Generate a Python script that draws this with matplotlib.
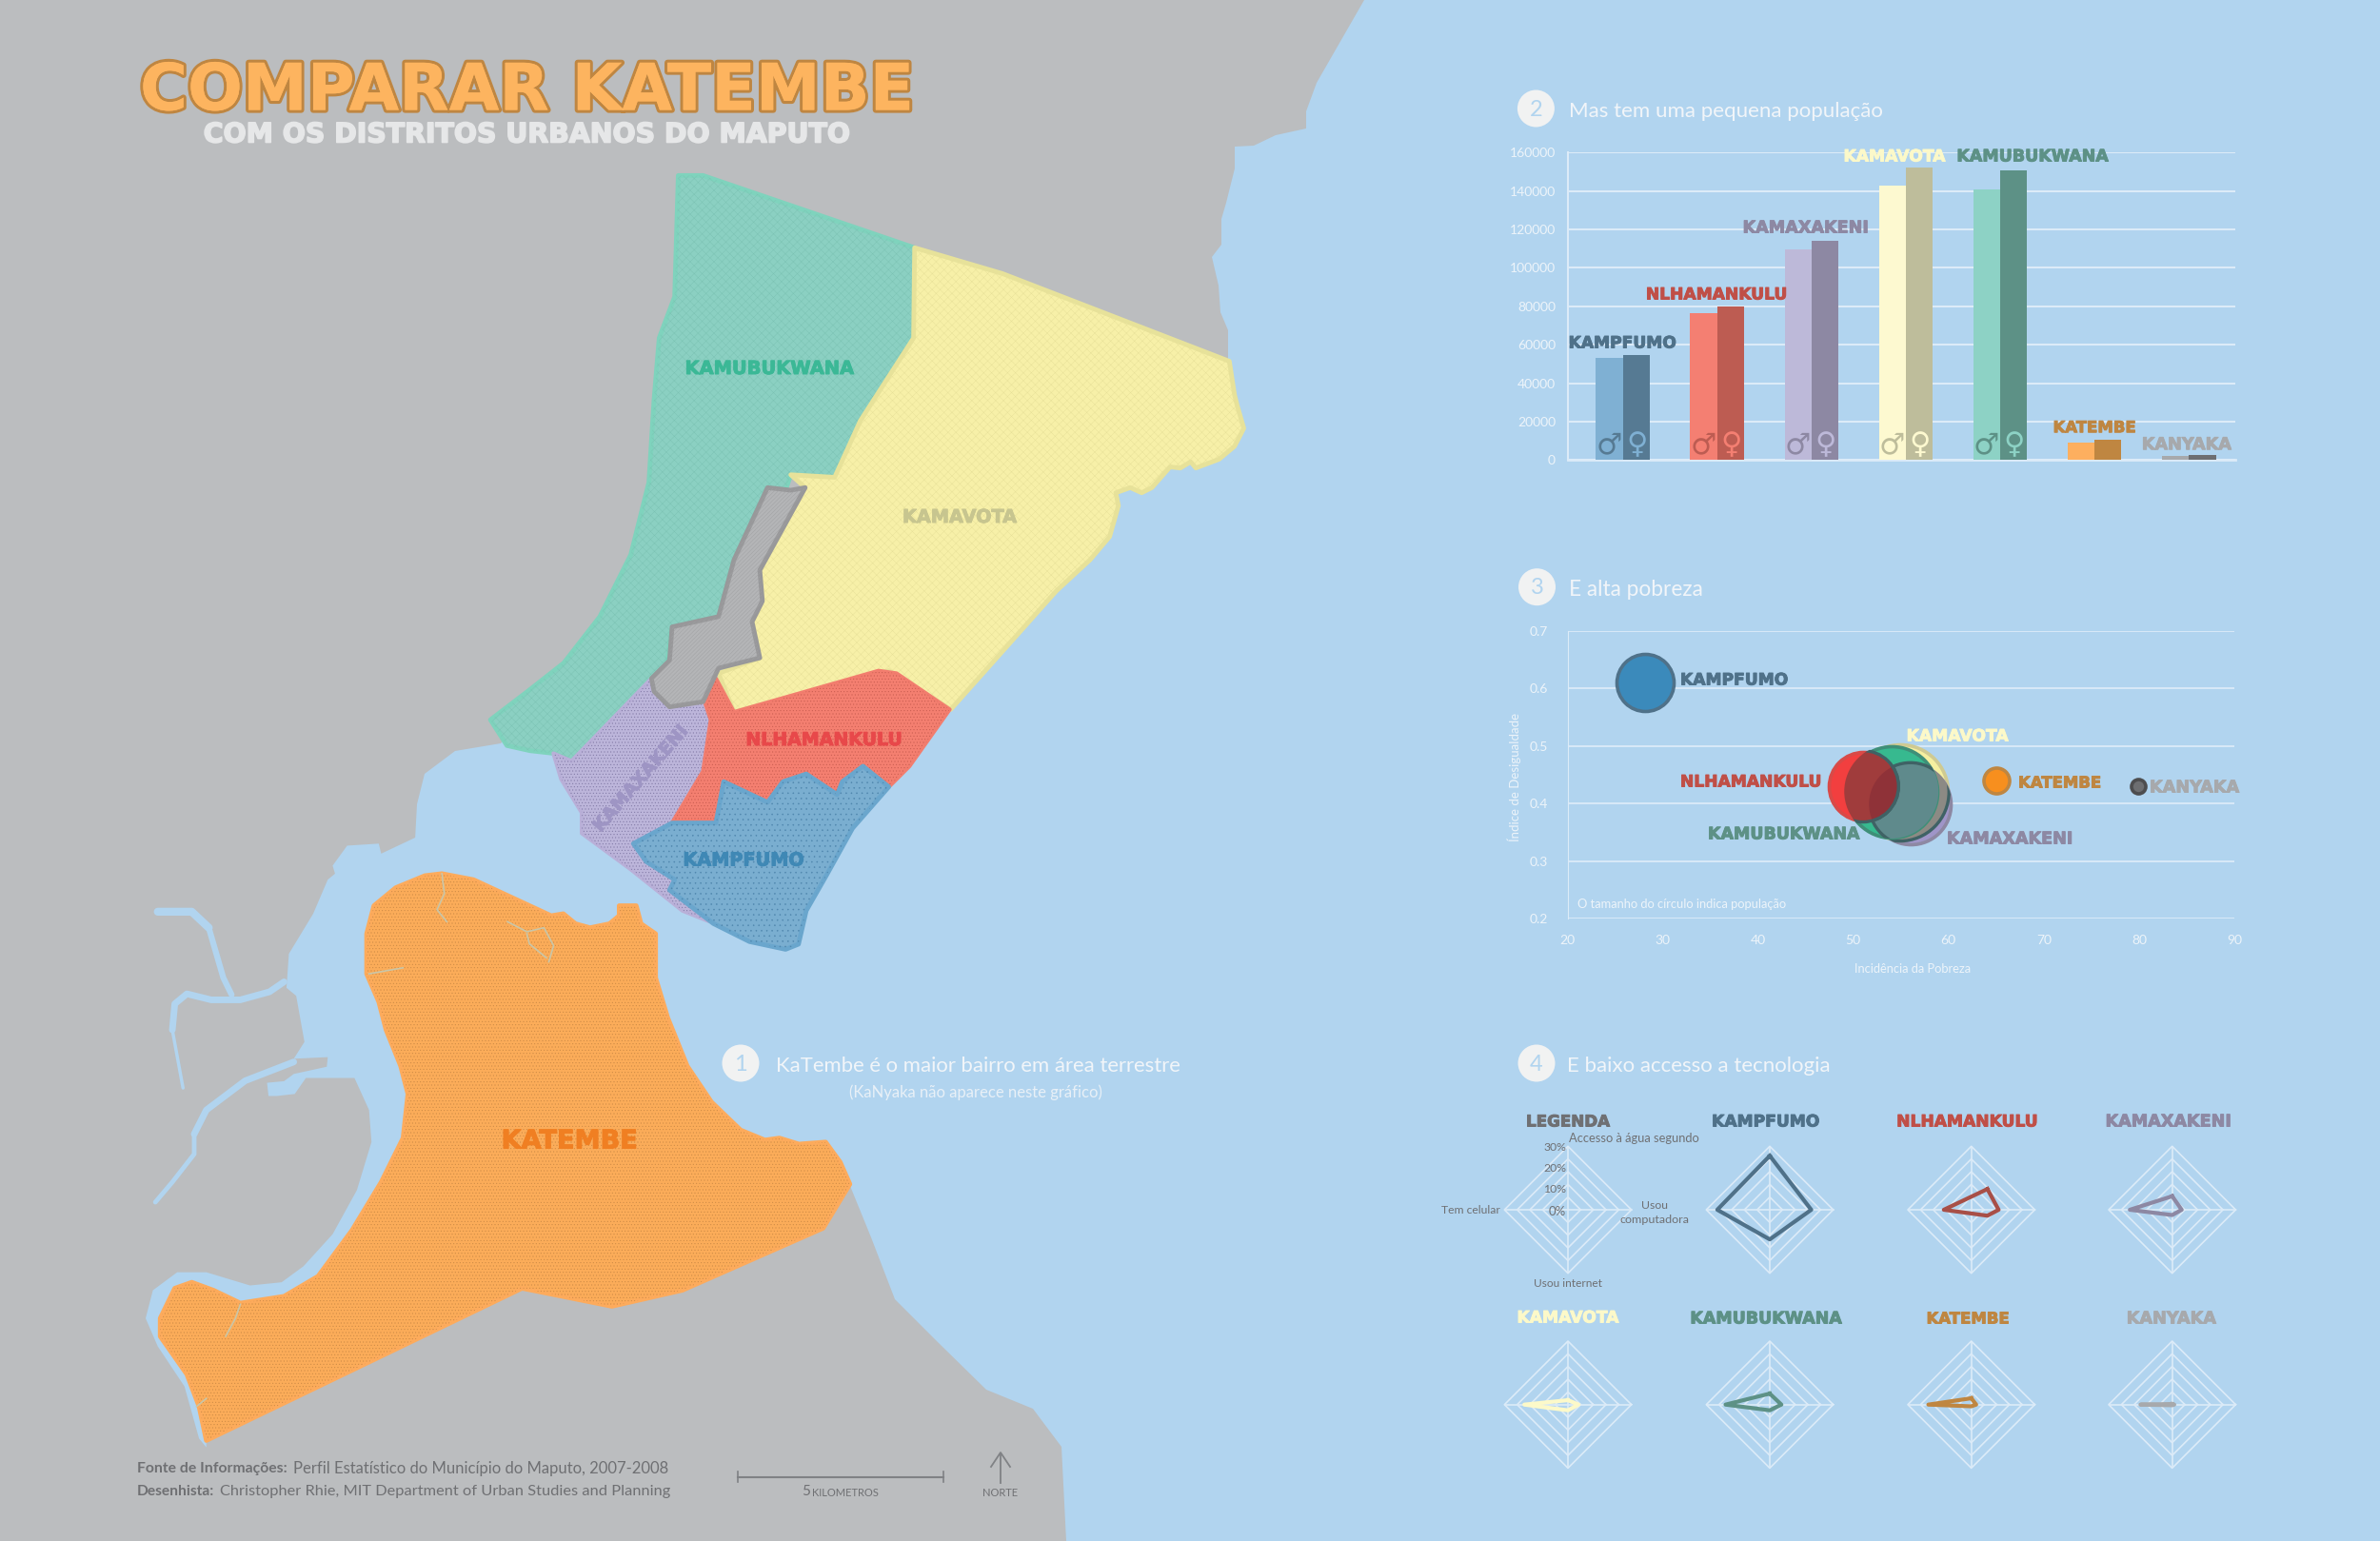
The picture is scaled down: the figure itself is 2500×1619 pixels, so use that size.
import numpy as np
import matplotlib
matplotlib.use('Agg')
import matplotlib.pyplot as plt
import matplotlib.patheffects as pe
from matplotlib.patches import Polygon, Ellipse, Circle

W, H = 2500, 1619
GRAY = '#bbbdbf'; WATER = '#b1d4ef'; PALE = '#edf4fa'; GRID = '#dcebf8'; TXT = '#6f7073'
LIGHT_FONT = ['Lato', 'DejaVu Sans']; HEAVY_FONT = ['DejaVu Sans']

# ---------- data ----------
districts = ['KAMPFUMO', 'NLHAMANKULU', 'KAMAXAKENI', 'KAMAVOTA', 'KAMUBUKWANA', 'KATEMBE', 'KANYAKA']
male_pop = [53100, 76700, 109800, 142600, 141000, 9070, 2470]
female_pop = [54750, 79800, 114300, 152200, 150600, 10400, 2800]
male_col = ['#7fb0d3', '#f47f72', '#bdb9d9', '#fdf9d0', '#8dd2c5', '#fdaf5f', '#a7a9ac']
female_col = ['#567a93', '#bd5c52', '#8d88a3', '#bebd9b', '#5d9186', '#bf8641', '#6d6e71']
label_col = ['#4f7189', '#c04f47', '#8d88a3', '#fcf9c9', '#5d9186', '#bf8641', '#a7a9ac']
radar_col = ['#4f7189', '#a84f47', '#8d88a3', '#fcf9c9', '#5d9186', '#bf8641', '#a7a9ac']
label_w = [113, 148, 132, 107, 159, 87, 94]

poverty = [28.1, 51.0, 56.0, 54.9, 54.0, 65.0, 79.9]
inequality = [0.610, 0.430, 0.399, 0.420, 0.421, 0.440, 0.430]
bubble_d = [60, 72, 84, 100, 96, 27, 15]
bubble_face = ['#3b8abb', '#f23f3f', '#9f95c8', '#f5efa0', '#37b98f', '#f78f1e', '#6d6e71']
bubble_edge = ['#4f7189', '#d84a48', '#8d88a3', '#cfca92', '#3f8f78', '#bf8641', '#4d4d4f']

# radar values (% water up, computer right, internet down, phone left)
radar_water = [25.5, 9.8, 6.4, 2.1, 5.2, 3.0, 0.3]
radar_computer = [19.6, 12.9, 4.5, 5.0, 5.5, 2.3, 1.0]
radar_internet = [14.0, 2.8, 2.5, 2.7, 2.7, 0.8, 0.3]
radar_phone = [24.8, 13.0, 20.0, 20.6, 20.9, 20.3, 15.0]
radar_lean = [0, 7.6, 0, 0, 0, 0, 0]
radar_rings = [6, 12, 18, 24, 30]

# map outlines, in crop coordinates
kamubukwana_z = [(392,45),(440,45),(850,185),(848,360),(745,520),(695,630),(610,625),(600,655),(565,650),(500,790),
    (470,900),(380,920),(370,990),(340,1020),(185,1180),(150,1165),(105,1160),(60,1150),(28,1100),(100,1045),(170,990),
    (240,900),(300,780),(335,640),(345,480),(355,360),(385,280)]
kamavota_z = [(850,185),(1020,235),(1460,405),(1470,470),(1475,490),(1488,535),(1470,570),(1440,595),(1395,612),(1385,600),
    (1365,612),(1345,610),(1310,650),(1290,660),(1268,650),(1240,660),(1245,685),(1228,745),(1190,790),(1125,850),(920,1080),
    (800,1005),(500,1085),(470,1010),(550,980),(535,910),(555,870),(550,810),(638,650),(610,625),(695,630),(745,520),(848,360)]
urban_gap_z = [(565,650),(610,655),(638,650),(550,810),(555,870),(535,910),(550,980),(470,1000),(440,1065),(375,1075),
    (345,1045),(340,1020),(375,985),(380,920),(470,900),(500,790)]
nlhamankulu_z = [(465,1020),(500,1085),(780,1005),(815,1010),(918,1080),(840,1190),(800,1230),(750,1190),(710,1220),(700,1245),
    (640,1205),(595,1220),(565,1260),(480,1220),(465,1300),(380,1300),(440,1200),(455,1100),(445,1070)]
kampfumo_z = [(380,1300),(465,1300),(480,1220),(565,1260),(595,1220),(640,1205),(700,1245),(710,1220),(750,1190),(800,1230),
    (730,1310),(680,1400),(640,1470),(625,1535),(600,1545),(530,1530),(460,1495),(375,1430),(385,1410),(330,1375),(305,1340)]
kamaxakeni_z = [(340,1020),(345,1045),(375,1075),(440,1065),(450,1070),(455,1100),(440,1200),(380,1300),(305,1340),(330,1375),
    (385,1410),(375,1430),(450,1490),(400,1470),(300,1390),(205,1320),(205,1280),(165,1215),(150,1165),(185,1180)]
katembe_z = [(170,1505),(155,1420),(130,1340),(75,1245),(75,1200),(105,1125),(140,1110),(185,1130),(240,1162),(330,1145),
    (400,1095),(470,980),(530,860),(575,750),(585,640),(570,570),(540,480),(525,410),(500,340),(500,240),(515,170),(560,125),
    (620,95),(655,90),(720,105),(800,150),(880,195),(905,190),(930,215),(960,225),(1000,215),(1020,195),(1020,170),(1055,170),
    (1065,215),(1095,240),(1095,350),(1120,450),(1160,570),(1210,660),(1270,730),(1320,755),(1350,750),(1390,765),(1445,760),
    (1475,810),(1495,865),(1440,975),(1150,1130),(1005,1170),(820,1125)]
coast_west_z = [(170,1522),(155,1500),(125,1370),(70,1270),(45,1200),(60,1130),(110,1085),(170,1085),(260,1118),(325,1110),
    (370,1070),(430,990),(480,880),(510,760),(505,680),(475,600),(375,600),(352,640),(315,645),(298,645),(295,612),(330,608),
    (350,590),(418,572),(420,548),(350,552),(372,510),(355,395),(335,375),(340,290),(390,190),(420,105),(435,90),(430,70),
    (460,20),(525,15),(530,40),(600,0)]
river_segments_z = [([(70,185),(140,185),(175,225)], 6), ([(175,225),(205,350),(222,392)], 4.5),
    ([(122,625),(100,480)], 2.5), ([(100,480),(105,415),(130,390),(180,405),(240,405),(300,385),(330,360)], 5),
    ([(350,560),(250,607),(170,680),(145,740)], 5), ([(145,740),(145,790),(100,860),(65,910)], 3.5)]
streams_z = [[(655,90),(660,140),(645,180),(665,210)], [(790,210),(830,235),(865,225),(885,270),(875,310)],
    [(830,240),(835,265),(870,300)], [(505,340),(575,325)], [(240,1165),(230,1200),(210,1245)], [(170,1400),(150,1420)]]
coast_north_px = [(438,845),(446,813),(478,789),(526,781),(600,700)]
coast_east_px = [(1290,378),(1290,347),(1282,328),(1280,300),(1273,270),(1283,257),(1283,230),(1288,213),(1297,177),(1297,154),
    (1317,153),(1340,142),(1372,135),(1372,117),(1383,87),(1433,0)]
coast_south_px = [(1120,1619),(1115,1520),(1085,1480),(1036,1460),(985,1410),(940,1365),(915,1300)]

def z6(pts):
    return np.array(pts, float) / 1.845 + [500, 160]
def z7(pts):
    return np.array(pts, float) / [1.96, 2.376] + [130, 880]

# ---------- figure ----------
plt.rcParams['hatch.linewidth'] = 0.35
plt.rcParams['font.family'] = LIGHT_FONT
fig = plt.figure(figsize=(W/100, H/100), dpi=100, facecolor=GRAY)
ax = fig.add_axes([0, 0, 1, 1]); ax.set_xlim(0, W); ax.set_ylim(H, 0); ax.axis('off')
tx = fig.add_axes([0, 0, 1, 1], zorder=10); tx.set_xlim(0, W); tx.set_ylim(H, 0); tx.axis('off'); tx.patch.set_alpha(0)
renderer = fig.canvas.get_renderer()
DY = 1.5

def rect(l, t, r, b):
    return [l/W, 1-b/H, (r-l)/W, (b-t)/H]

def fit(t, width):
    rot = t.get_rotation(); t.set_rotation(0)
    w = t.get_window_extent(renderer).width
    t.set_fontsize(t.get_fontsize()*width/w); t.set_rotation(rot)
    return t

def label(x, y, s, width, color, ha='center', rot=0, heavy=True, fatten=0.7, **kw):
    if heavy and 'path_effects' not in kw:
        kw['path_effects'] = [pe.withStroke(linewidth=fatten, foreground=color)]
    t = tx.text(x, y+DY, s, color=color, ha=ha, va='center', rotation=rot, rotation_mode='anchor',
                family=HEAVY_FONT if heavy else LIGHT_FONT, weight='bold' if heavy else 'normal', fontsize=12, **kw)
    return fit(t, width)

def plain(x, y, s, width, color=PALE, ha='left', **kw):
    return fit(tx.text(x, y+DY, s, color=color, ha=ha, va='center', fontsize=10, **kw), width)

# ---------- map ----------
water = np.vstack([[(1433, 0), (2500, 0), (2500, H)], coast_south_px, [(893, 1246)], z7(katembe_z[-4:]),
                   z7(katembe_z[:1]), z7(coast_west_z), coast_north_px, coast_east_px])
ax.add_patch(Polygon(water, closed=True, fc=WATER, ec='none', zorder=1))
for river, lw in river_segments_z:
    ax.plot(*z7(river).T, color=WATER, lw=lw, solid_capstyle='round', solid_joinstyle='round', zorder=1)

def region(pts, face, edge, hatch, hcol, lw, z):
    ax.add_patch(Polygon(pts, closed=True, fc=face, ec=edge, lw=lw, joinstyle='round', zorder=z))
    ax.add_patch(Polygon(pts, closed=True, fc='none', ec=hcol, lw=0, hatch=hatch, zorder=z+0.1))

region(z6(kamubukwana_z), '#8bd0c2', '#7fd3bd', '////\\\\\\\\', '#7cc3b4', 3.5, 3)
region(z6(kamavota_z), '#f7f0a8', '#e7e29a', '////\\\\\\\\', '#e8e199', 3.5, 4)
region(z6(kamaxakeni_z), '#bcb5da', '#b9b0d8', '.....', '#8078a5', 3, 5)
region(z6(nlhamankulu_z), '#f47f70', '#f27d6e', '.....', '#c75c50', 3, 6)
region(z6(kampfumo_z), '#7aaed0', '#6aa6cd', '...', '#4f86ad', 3.5, 7)
region(z6(urban_gap_z), '#b4b5b7', '#98989a', '////////', '#a0a1a3', 3.5, 8)
region(z7(katembe_z), '#fbac59', '#fdab5c', '.....', '#cc8a45', 3.5, 9)
for s in streams_z:
    ax.plot(*z7(s).T, color='#c9c6a8', lw=1.2, zorder=10)

label(808, 386, 'KAMUBUKWANA', 177, '#3bb896')
label(1008, 542, 'KAMAVOTA', 120, '#c7c58f')
label(866, 776, 'NLHAMANKULU', 164, '#e8484a')
label(781, 902.5, 'KAMPFUMO', 127, '#3f88b5')
tx.text(673, 818, 'KAMAXAKENI', color='#9e95c4', ha='center', va='center', rotation=49, rotation_mode='anchor',
        family=HEAVY_FONT, weight='bold', fontsize=13.5, path_effects=[pe.withStroke(linewidth=0.7, foreground='#9e95c4')])
label(598, 1198, 'KATEMBE', 143, '#f07f22')

# ---------- titles ----------
label(147, 95, 'COMPARAR KATEMBE', 811, '#fdb45f', ha='left',
      path_effects=[pe.withStroke(linewidth=4.5, foreground='#bf8641'), pe.Normal()])
label(213.7, 140, 'COM OS DISTRITOS URBANOS DO MAPUTO', 678, '#e6e7e8', ha='left', fatten=1.2)

sections = [(778, 1117, '1', 814.6, 'KaTembe é o maior bairro em área terrestre', 424),
            (1613.4, 114, '2', 1647.5, 'Mas tem uma pequena população', 329),
            (1614.5, 616.7, '3', 1647.5, 'E alta pobreza', 140),
            (1614, 1117, '4', 1646.5, 'E baixo accesso a tecnologia', 277)]
for cx, cy, n, tx_x, s, w in sections:
    ax.add_patch(Circle((cx, cy), 19.5, fc='#f1f2f2', ec='none', zorder=12))
    tx.text(cx, cy+1, n, color='#b1d4ef', fontsize=17, ha='center', va='center')
    label(tx_x, cy+1.5, s, w, '#f1f5f9', ha='left', heavy=False)
label(1025, 1146, '(KaNyaka não aparece neste gráfico)', 265, '#e8f0f7', heavy=False)

# ---------- footer ----------
for x, y, s, w, wt in [(143.5, 1541, 'Fonte de Informações:', 158, 'bold'), (307.6, 1541, 'Perfil Estatístico do Município do Maputo, 2007-2008', 394, 'normal'),
                       (143.5, 1565.7, 'Desenhista:', 81, 'bold'), (230.6, 1565.7, 'Christopher Rhie, MIT Department of Urban Studies and Planning', 472, 'normal')]:
    plain(x, y, s, w, color=TXT, weight=wt)
ax.plot([775, 991], [1551.7, 1551.7], color='#808285', lw=1.5, zorder=20)
ax.plot([775, 775], [1546, 1557], color='#808285', lw=1.2, zorder=20)
ax.plot([991, 991], [1546, 1557], color='#808285', lw=1.2, zorder=20)
tx.text(842, 1566.7, '5', color=TXT, fontsize=11, ha='left', va='center')
plain(853, 1566.7, 'KILOMETROS', 70, color=TXT)
ax.plot([1051, 1051], [1527, 1558], color='#808285', lw=1.3, zorder=20)
ax.plot([1041, 1051, 1061], [1541, 1526, 1541], color='#808285', lw=1.3, zorder=20)
plain(1051, 1566.7, 'NORTE', 37, color=TXT, ha='center')

# ---------- bar chart ----------
bx = fig.add_axes(rect(1646.5, 160.2, 2348, 483.5)); bx.patch.set_alpha(0)
pos = np.arange(len(districts))
bx.set_xlim(-0.585, 6.49); bx.set_ylim(0, 160000)
bar_w = 0.284
bx.bar(pos-bar_w/2, male_pop, bar_w, color=male_col, zorder=3)
bx.bar(pos+bar_w/2, female_pop, bar_w, color=female_col, zorder=3)
bx.set_axisbelow(True)
bx.set_yticks(range(0, 160001, 20000))
bx.yaxis.grid(True, color=GRID, lw=1.5); bx.set_xticks([])
bx.tick_params(axis='y', length=0, pad=9, labelsize=10, labelcolor=PALE)
for s in ['top', 'right']:
    bx.spines[s].set_visible(False)
bx.spines['left'].set_color(GRID); bx.spines['bottom'].set_color(GRID)
bx.spines['left'].set_linewidth(1.5); bx.spines['bottom'].set_linewidth(2)
for i in range(5):
    bx.text(i-0.148, 7750, '♂', color=female_col[i], family='DejaVu Sans', weight='bold', fontsize=22, ha='center', va='center', zorder=5)
    bx.text(i+0.148, 7750, '♀', color=male_col[i], family='DejaVu Sans', weight='bold', fontsize=22, ha='center', va='center', zorder=5)
bar_label_px = [(1704.5, 359), (1803.7, 308), (1897, 238), (1990, 163), (2135, 163), (2200, 447.7), (2297, 465.7)]
for (x, y), name, c, w in zip(bar_label_px, districts, label_col, label_w):
    label(x, y, name, w, c)

# ---------- bubble chart ----------
sx = fig.add_axes(rect(1646.5, 663, 2347, 965)); sx.patch.set_alpha(0)
sx.set_xlim(20, 90); sx.set_ylim(0.2, 0.7)
sx.set_xticks(range(20, 91, 10)); sx.set_yticks([.2, .3, .4, .5, .6, .7])
sx.set_yticklabels(['0.2', '0.3', '0.4', '0.5', '0.6', '0.7'])
sx.yaxis.grid(True, color=GRID, lw=1.3); sx.set_axisbelow(True)
sx.tick_params(axis='x', length=0, pad=12, labelsize=10, labelcolor=PALE)
sx.tick_params(axis='y', length=0, pad=15, labelsize=10, labelcolor=PALE)
for s in ['right', 'bottom', 'top']:
    sx.spines[s].set_visible(False)
sx.spines['left'].set_color(GRID)

px_x, px_y = 70/700.5, 0.5/302
def bub(i, z):
    d = bubble_d[i]
    sx.scatter([poverty[i]], [inequality[i]], s=(d*0.72)**2, c=bubble_face[i], edgecolors=bubble_edge[i], linewidths=2.6, zorder=z, clip_on=False)
def shape(i, **kw):
    d = bubble_d[i]
    return Ellipse((poverty[i], inequality[i]), (d+3)*px_x, (d+3)*px_y, **kw)
def overlap(a, b, color, z):
    clip = shape(b, transform=sx.transData)
    e = shape(a, fc=color, ec='#3f6265', lw=2.4, zorder=z)
    sx.add_patch(e); e.set_clip_path(clip)

bub(0, 4); bub(5, 4); bub(6, 4)
bub(3, 3); bub(2, 3.1); bub(4, 3.2)
overlap(3, 2, '#8c8a84', 3.15)
overlap(2, 4, '#5f8a8c', 3.3)
bub(1, 3.4)
overlap(1, 4, '#a03c3c', 3.5)
overlap(1, 2, '#8f3238', 3.6)

scatter_label_px = [(1765, 713), (1765, 820), (2045, 880), (2002.6, 772), (1794, 875), (2120, 821), (2258, 826)]
for (x, y), name, c, w in zip(scatter_label_px, districts, label_col, label_w):
    label(x, y, name, w, c, ha='left')
plain(2009, 1016, 'Incidência da Pobreza', 123, ha='center')
tx.text(1590.6, 816, 'Índice de Desigualdade', color=PALE, ha='center', va='center', rotation=90, fontsize=9.5)
plain(1657, 948.7, 'O tamanho do círculo indica população', 220)

# ---------- radar charts ----------
def radar_axes(cx, cy):
    r = fig.add_axes(rect(cx-66.7, cy-66.7, cx+66.7, cy+66.7)); r.patch.set_alpha(0)
    r.set_xlim(-30, 30); r.set_ylim(-30, 30); r.axis('off')
    for g in radar_rings:
        r.plot([g, 0, -g, 0, g], [0, g, 0, -g, 0], color=GRID, lw=1.2, clip_on=False)
    r.plot([-30, 30], [0, 0], color=GRID, lw=1.2); r.plot([0, 0], [-30, 30], color=GRID, lw=1.2)
    return r

col_x = [1647, 1859, 2070.7, 2281.7]
row_y = [1271, 1475.7]
radar_pos = [(col_x[1], row_y[0]), (col_x[2], row_y[0]), (col_x[3], row_y[0]), (col_x[0], row_y[1]),
             (col_x[1], row_y[1]), (col_x[2], row_y[1]), (col_x[3], row_y[1])]
radar_title_px = [(1855, 1177), (2067, 1177), (2278, 1177), (1647, 1383), (1855, 1384), (2067, 1384), (2281, 1384)]
radar_axes(col_x[0], row_y[0])
label(1647, 1177, 'LEGENDA', 88, TXT)
for i, name in enumerate(districts):
    r = radar_axes(*radar_pos[i])
    xs = [radar_lean[i], radar_computer[i], radar_lean[i], -radar_phone[i], radar_lean[i]]
    ys = [radar_water[i], 0, -radar_internet[i], 0, radar_water[i]]
    r.plot(xs, ys, color=radar_col[i], lw=3, solid_joinstyle='round', zorder=5, clip_on=False)
    label(*radar_title_px[i], name, label_w[i], label_col[i])

for x, y, s, ha, w in [(1648, 1194, 'Accesso à água segundo', 'left', 137), (1645, 1204, '30%', 'right', 24), (1645, 1226, '20%', 'right', 24),
                       (1645, 1248, '10%', 'right', 24), (1645, 1271, '0%', 'right', 18), (1576, 1270, 'Tem celular', 'right', 62),
                       (1738, 1265, 'Usou', 'center', 28), (1738, 1280, 'computadora', 'center', 73), (1647, 1347, 'Usou internet', 'center', 72)]:
    plain(x, y, s, w, color=TXT, ha=ha)

fig.savefig('out.png', dpi=100, facecolor=GRAY)
